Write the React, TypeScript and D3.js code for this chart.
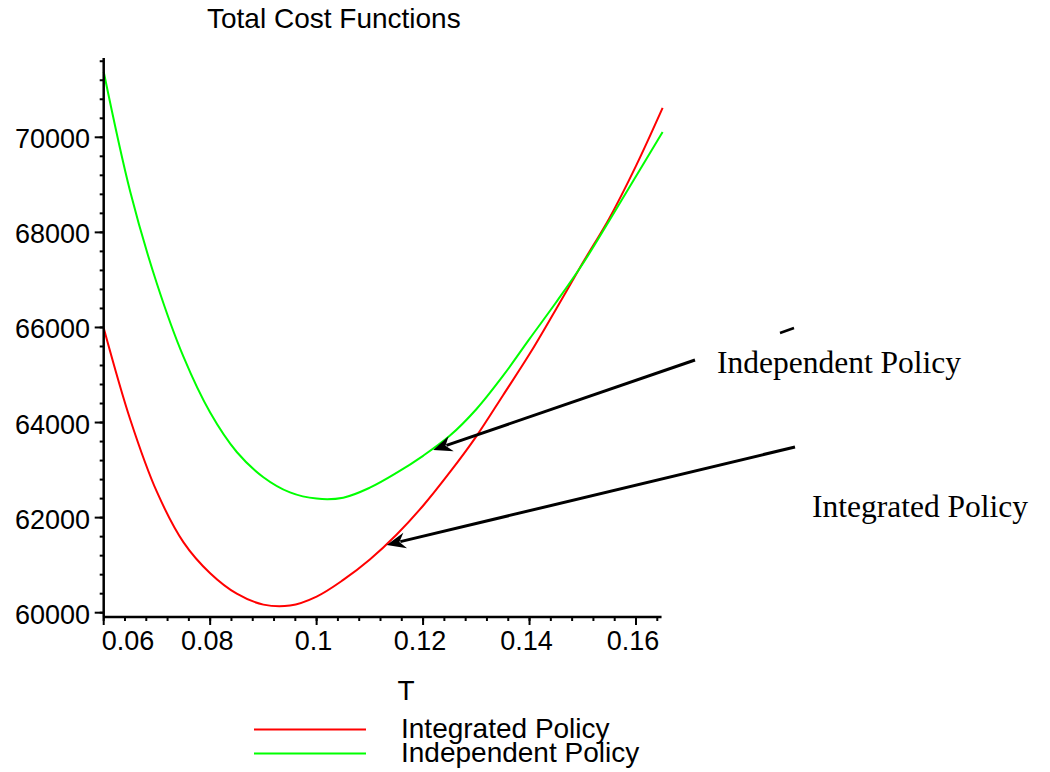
import React from "react";
import * as d3 from "d3";

// ---- data ----
const T_VALUES = [0.06, 0.065, 0.07, 0.075, 0.08, 0.085, 0.09, 0.095, 0.1, 0.105, 0.11, 0.115, 0.12, 0.125, 0.13, 0.135, 0.14, 0.145, 0.15, 0.155, 0.16, 0.165];
const INTEGRATED = [65990, 64060, 62540, 61480, 60830, 60400, 60170, 60150, 60340, 60690, 61120, 61640, 62250, 62950, 63710, 64570, 65440, 66390, 67360, 68300, 69400, 70620];
const INDEPENDENT = [71380, 68850, 66920, 65380, 64210, 63380, 62850, 62530, 62400, 62420, 62630, 62940, 63300, 63720, 64280, 64980, 65760, 66530, 67340, 68250, 69180, 70110];
const X_TICKS = [0.06, 0.08, 0.1, 0.12, 0.14, 0.16];
const X_TICK_LABELS = ["0.06", "0.08", "0.1", "0.12", "0.14", "0.16"];
const Y_TICKS = [60000, 62000, 64000, 66000, 68000, 70000];
const Y_TICK_LABELS = ["60000", "62000", "64000", "66000", "68000", "70000"];
const SERIES_NAMES = ["Integrated Policy", "Independent Policy"];
const SERIES_COLORS = ["#ff0000", "#00ff00"];
const TITLE = "Total Cost Functions";
const X_LABEL = "T";

// axis extents (data units)
const X_MIN = 0.06, X_MAX = 0.1648;
const Y_MIN = 59910, Y_MAX = 71670;

// annotation anchors on the curves (data units)
const ANNOTATIONS = [
  { text: "Independent Policy", tipT: 0.1219, tipC: 63424, tail: [695, 360], textPos: [717, 373] },
  { text: "Integrated Policy", tipT: 0.11317, tipC: 61426, tail: [795, 447], textPos: [812, 517] },
];

const SANS = "'Liberation Sans', Arial, Helvetica, sans-serif";
const SERIF = "'Liberation Serif', 'Times New Roman', serif";

export default function App() {
  const x = d3.scaleLinear().domain([0.06, 0.16]).range([103.7, 636]);
  const y = d3.scaleLinear().domain([60000, 70000]).range([612.7, 137.3]);

  const x0 = x(X_MIN), x1 = x(X_MAX);
  const yb = y(Y_MIN), yt = y(Y_MAX);

  const line = d3
    .line<[number, number]>()
    .x((d) => x(d[0]))
    .y((d) => y(d[1]))
    .curve(d3.curveCatmullRom);

  const series = [INTEGRATED, INDEPENDENT];

  const xMinor = d3.range(0, 27).map((i) => 0.06 + i * 0.004).filter((v) => v <= X_MAX + 1e-9);
  const yMinor = d3.range(0, 31).map((i) => 60000 + i * 400).filter((v) => v <= Y_MAX);

  const arrowHead = (tx: number, ty: number, fx: number, fy: number) => {
    const ang = Math.atan2(ty - fy, tx - fx);
    const L = 19, W = 8, N = 13;
    const ca = Math.cos(ang), sa = Math.sin(ang);
    const pt = (a: number, b: number) => [tx - a * ca + b * -sa, ty - a * sa + b * ca];
    const p1 = pt(L, W), p2 = pt(N, 0), p3 = pt(L, -W);
    return `M${tx},${ty}L${p1[0]},${p1[1]}L${p2[0]},${p2[1]}L${p3[0]},${p3[1]}Z`;
  };

  return (
    <svg
      width={1050}
      height={772}
      style={{ position: "absolute", left: 0, top: 0, background: "#fff" }}
    >
      <rect width={1050} height={772} fill="#fff" />
      {/* title */}
      <text x={207} y={28} fontFamily={SANS} fontSize={28} fill="#000">
        {TITLE}
      </text>

      {/* curves */}
      {series.map((vals, i) => (
        <path
          key={i}
          d={line(T_VALUES.map((t, j) => [t, vals[j]] as [number, number])) || ""}
          fill="none"
          stroke={SERIES_COLORS[i]}
          strokeWidth={2}
        />
      ))}

      {/* y axis */}
      <line x1={x0} x2={x0} y1={yt} y2={yb} stroke="#000" strokeWidth={2.5} />
      {yMinor.map((v, i) => (
        <line key={"ym" + i} x1={x0 - 4} x2={x0} y1={y(v)} y2={y(v)} stroke="#000" strokeWidth={2} />
      ))}
      {Y_TICKS.map((v, i) => (
        <g key={"yt" + i}>
          <line x1={x0 - 9} x2={x0} y1={y(v)} y2={y(v)} stroke="#000" strokeWidth={2} />
          <text x={90} y={y(v) + 11} textAnchor="end" fontFamily={SANS} fontSize={27} fill="#000">
            {Y_TICK_LABELS[i]}
          </text>
        </g>
      ))}

      {/* x axis */}
      <line x1={x0} x2={x1} y1={yb} y2={yb} stroke="#000" strokeWidth={2.5} />
      {xMinor.map((v, i) => (
        <line key={"xm" + i} x1={x(v)} x2={x(v)} y1={yb} y2={yb + 4} stroke="#000" strokeWidth={2} />
      ))}
      {X_TICKS.map((v, i) => (
        <g key={"xt" + i}>
          <line x1={x(v)} x2={x(v)} y1={yb} y2={yb + 8} stroke="#000" strokeWidth={2} />
          <text
            x={i === 0 ? x(v) - 2 : x(v) - 3}
            y={650}
            textAnchor={i === 0 ? "start" : "middle"}
            fontFamily={SANS}
            fontSize={27}
            fill="#000"
          >
            {X_TICK_LABELS[i]}
          </text>
        </g>
      ))}
      <text x={406} y={700} textAnchor="middle" fontFamily={SANS} fontSize={28} fill="#000">
        {X_LABEL}
      </text>

      {/* legend */}
      {SERIES_NAMES.map((name, i) => (
        <g key={"lg" + i}>
          <line x1={254} x2={366} y1={729.5 + i * 24} y2={729.5 + i * 24} stroke={SERIES_COLORS[i]} strokeWidth={2} />
          <text x={401} y={738 + i * 24} fontFamily={SANS} fontSize={28} fill="#000">
            {name}
          </text>
        </g>
      ))}

      {/* annotations */}
      {ANNOTATIONS.map((a, i) => {
        const tx = x(a.tipT), ty = y(a.tipC);
        const [fx, fy] = a.tail;
        const ang = Math.atan2(ty - fy, tx - fx);
        const ex = tx - 14 * Math.cos(ang), ey = ty - 14 * Math.sin(ang);
        return (
          <g key={"an" + i}>
            <line x1={fx} y1={fy} x2={ex} y2={ey} stroke="#000" strokeWidth={3} />
            <path d={arrowHead(tx, ty, fx, fy)} fill="#000" />
            <text x={a.textPos[0]} y={a.textPos[1]} fontFamily={SERIF} fontSize={31.5} fill="#000">
              {a.text}
            </text>
          </g>
        );
      })}
      <line x1={780} y1={333} x2={794} y2={328} stroke="#000" strokeWidth={2.5} />
    </svg>
  );
}
